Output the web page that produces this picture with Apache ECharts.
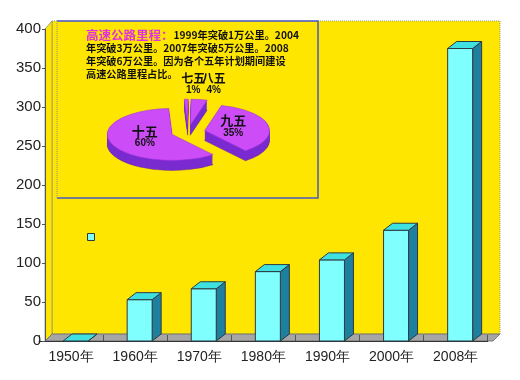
<!DOCTYPE html>
<html><head><meta charset="utf-8">
<script src="https://cdn.jsdelivr.net/npm/echarts@6/dist/echarts.min.js"></script>
<style>html,body{margin:0;padding:0;background:#fff}#c{width:520px;height:380px}</style>
</head><body><div id="c"></div>
<script>
// ---- data ----
const years = ['1950年', '1960年', '1970年', '1980年', '1990年', '2000年', '2008年'];
const mileage = [0, 53, 67, 89, 104, 142, 375];
const yMin = 0, yMax = 400, yInterval = 50;
const pieNames = ['九五', '八五', '七五', '十五'];
const pieValues = [35, 4, 1, 60];
const noteTitle = '高速公路里程：';
const noteLines = ['1999年突破1万公里。2004', '年突破3万公里。2007年突破5万公里。2008', '年突破6万公里。因为各个五年计划期间建设', '高速公路里程占比。'];
const seriesName = '公路里程';

// ---- chart ----
const chart = echarts.init(document.getElementById('c'), null, {renderer: 'canvas'});
const cjk = '"Noto Sans CJK SC", sans-serif';
const lat = '"Liberation Sans", Arial, sans-serif';

const pieTotal = pieValues.reduce((a, b) => a + b, 0);
const pieCum = pieValues.map((v, i) => pieValues.slice(0, i).reduce((a, b) => a + b, 0));
const pieStart = -51; // degrees, counter-clockwise
const P = {cx: 188, cy: 132, rx: 65, ry: 26, depth: 10, explode: 17};

let noteText = '{t|' + noteTitle + '}{b|' + noteLines[0] + '}';
for (let i = 1; i < noteLines.length; i++) noteText += '\n{b|' + noteLines[i] + '}';

const option = {
  backgroundColor: '#ffffff',
  animation: false,
  grid: {left: 39, right: 32.3, top: 29, bottom: 39},
  legend: {
    left: 82, top: 228, itemWidth: 7, itemHeight: 7, icon: 'rect',
    data: [seriesName], formatter: () => '', selectedMode: false,
    itemStyle: {borderColor: '#2b3b44', borderWidth: 1}
  },
  xAxis: {
    type: 'category', data: years,
    axisLine: {lineStyle: {color: '#333', width: 1}},
    axisTick: {show: true, inside: true, length: 6, lineStyle: {color: '#555'}},
    axisLabel: {margin: 9, fontSize: 14, color: '#222', fontFamily: lat}
  },
  yAxis: {
    type: 'value', min: yMin, max: yMax, interval: yInterval, offset: -6,
    axisLine: {show: true, lineStyle: {color: '#555'}},
    axisTick: {show: true, length: 3, lineStyle: {color: '#555'}},
    axisLabel: {fontSize: 15, margin: 4, color: '#222', fontFamily: lat},
    splitLine: {show: false}
  },
  graphic: [
    {type: 'rect', z: -10, shape: {x: 52, y: 21, width: 448, height: 313}, style: {fill: '#ffe600', stroke: '#9a9a80', lineWidth: 1, lineDash: [1, 1]}},
    {type: 'polygon', z: -9, shape: {points: [[45, 29], [52, 21], [52, 334], [45, 341]]}, style: {fill: '#ffe600', stroke: '#888', lineWidth: 0.8}},
    {type: 'polygon', z: -9, shape: {points: [[45, 341], [52, 334], [500, 334], [493, 341]]}, style: {fill: '#a6a6a6', stroke: '#666', lineWidth: 0.8}},
    {type: 'polyline', z: -8, shape: {points: [[57, 21], [318, 21], [318, 198], [57, 198]]}, style: {fill: null, stroke: '#4a5ac4', lineWidth: 1.5}},
    {type: 'line', z: -8, shape: {x1: 57, y1: 21, x2: 57, y2: 198}, style: {stroke: '#8890a0', lineWidth: 1, lineDash: [1, 1]}},
    {type: 'text', z: 10, left: 86, top: 29, style: {
      text: noteText,
      rich: {
        t: {fill: '#e030e0', fontSize: 12.5, fontWeight: 'bold', fontFamily: cjk, lineHeight: 13},
        b: {fill: '#111', fontSize: 10.2, fontWeight: 'bold', fontFamily: cjk, lineHeight: 13}
      }
    }}
  ],
  series: [
    {
      type: 'custom', name: seriesName, coordinateSystem: 'cartesian2d',
      itemStyle: {color: '#80ffff', borderColor: '#2b3b44', borderWidth: 1},
      data: mileage.map((v, i) => [i, v]),
      encode: {x: 0, y: 1},
      renderItem(params, api) {
        const c = api.coord([api.value(0), api.value(1)]);
        const b = api.coord([api.value(0), 0]);
        const x0 = c[0] - 8, x1 = c[0] + 17, yt = c[1], yb = b[1];
        const dx = 9, dy = -7, stroke = '#2b3b44';
        return {type: 'group', children: [
          {type: 'polygon', shape: {points: [[x1, yt], [x1 + dx, yt + dy], [x1 + dx, yb + dy], [x1, yb]]}, style: {fill: '#1f7f9e', stroke, lineWidth: 1}},
          {type: 'rect', shape: {x: x0, y: yt, width: x1 - x0, height: yb - yt}, style: {fill: '#80ffff', stroke, lineWidth: 1}},
          {type: 'polygon', shape: {points: [[x0, yt], [x1, yt], [x1 + dx, yt + dy], [x0 + dx, yt + dy]]}, style: {fill: '#3fe0e0', stroke, lineWidth: 1}}
        ]};
      }
    },
    {
      type: 'custom', name: 'pie', coordinateSystem: 'none', z: 5,
      data: pieValues.map((v, i) => ({name: pieNames[i], value: v})),
      renderItem(params, api) {
        const i = params.dataIndex;
        const val = api.value(0);
        const a0 = pieStart + pieCum[i] / pieTotal * 360;
        const a1 = a0 + val / pieTotal * 360;
        const mid = (a0 + a1) / 2 * Math.PI / 180;
        const sc = P.ry / P.rx;
        const ox = P.explode * Math.cos(mid), oy = -P.explode * Math.sin(mid) * sc;
        const vx = P.cx + ox, vy = P.cy + oy;
        const sa = -a1 * Math.PI / 180, ea = -a0 * Math.PI / 180;
        const layers = [];
        for (let k = P.depth; k >= 1; k--) {
          layers.push({type: 'sector', shape: {cx: 0, cy: k / sc, r: P.rx, startAngle: sa, endAngle: ea, clockwise: true},
            style: {fill: '#7a2bd0', stroke: k === P.depth ? '#5a1aa0' : null, lineWidth: 0.6}});
        }
        layers.push({type: 'sector', shape: {cx: 0, cy: 0, r: P.rx, startAngle: sa, endAngle: ea, clockwise: true},
          style: {fill: '#cc4cf7', stroke: '#9a30d8', lineWidth: 0.8}});
        const pct = Math.round(val / pieTotal * 100) + '%';
        let lx, ly;
        const big = val / pieTotal >= 0.1;
        if (big) {
          lx = vx + Math.cos(mid) * P.rx * 0.45;
          ly = vy - Math.sin(mid) * P.ry * 0.45;
        } else {
          lx = P.cx + 8 + Math.cos(mid) * P.rx * 2;
          ly = P.cy - P.ry * 1.85;
        }
        const name = pieNames[i];
        return {type: 'group', children: [
          {type: 'group', x: vx, y: vy, scaleY: sc, children: layers},
          {type: 'text', x: lx, y: ly - (big ? 8 : 5.5), style: {text: name, fill: '#111', fontSize: big ? 13 : 12, fontWeight: 'bold', fontFamily: cjk, align: 'center', verticalAlign: 'middle'}},
          {type: 'text', x: lx, y: ly + (big ? 5 : 6), style: {text: pct, fill: '#111', fontSize: 10, fontWeight: 'bold', fontFamily: lat, align: 'center', verticalAlign: 'middle'}}
        ]};
      }
    }
  ]
};
chart.setOption(option);
</script>
</body></html>
